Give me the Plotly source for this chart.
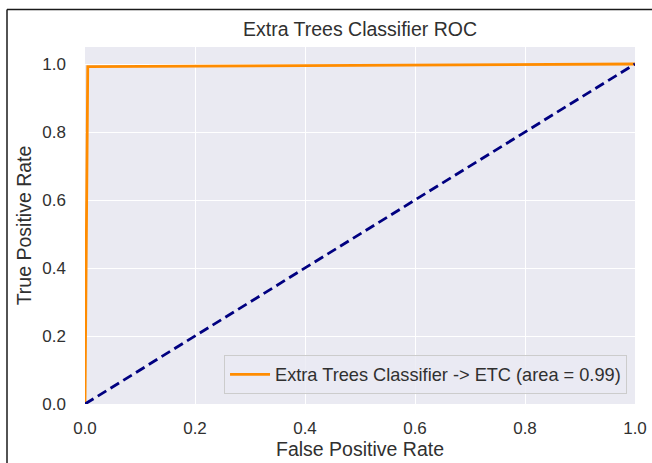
import plotly.graph_objects as go

# ROC data
fpr = [0.0, 0.005, 1.0]
tpr = [0.0, 0.992, 1.0]
diag_x = [0.0, 1.0]
diag_y = [0.0, 1.0]
roc_auc = 0.99
tick_vals = [0.0, 0.2, 0.4, 0.6, 0.8, 1.0]
tick_text = ["0.0", "0.2", "0.4", "0.6", "0.8", "1.0"]

FONT = "Liberation Sans, Arial, sans-serif"
TXT = "#303030"

fig = go.Figure()
fig.add_trace(go.Scatter(
    x=fpr, y=tpr, mode="lines",
    line=dict(color="#FF8C00", width=2.8),
    name=f"Extra Trees Classifier -> ETC (area = {roc_auc:.2f})",
))
fig.add_trace(go.Scatter(
    x=diag_x, y=diag_y, mode="lines",
    line=dict(color="#000080", width=2.8, dash="10px,5px"),
    showlegend=False,
))

fig.update_layout(
    width=652, height=463,
    margin=dict(l=85, r=17, t=46.5, b=59, pad=0),
    paper_bgcolor="white",
    plot_bgcolor="#EAEAF2",
    font=dict(family=FONT, color=TXT, size=17),
    title=dict(text="Extra Trees Classifier ROC", x=0.5, xref="paper",
               y=1 - 29 / 463, yref="container", yanchor="middle",
               font=dict(size=19.5, color=TXT)),
    xaxis=dict(range=[0, 1.0], tickvals=tick_vals, ticktext=tick_text,
               showgrid=True, gridcolor="white", gridwidth=1.3,
               zeroline=False, showline=False, ticks="",
               ticklabelstandoff=12, automargin=False,
               tickfont=dict(size=17),
               title=dict(text="False Positive Rate", font=dict(size=19.5), standoff=4)),
    yaxis=dict(range=[0, 1.05], tickvals=tick_vals, ticktext=tick_text,
               showgrid=True, gridcolor="white", gridwidth=1.3,
               zeroline=False, showline=False, ticks="",
               ticklabelstandoff=18, automargin=False,
               tickfont=dict(size=17),
               title=dict(text="True Positive Rate", font=dict(size=19.5), standoff=5)),
    legend=dict(x=0.9855, y=0.028, xanchor="right", yanchor="bottom",
                bgcolor="rgba(234,234,242,0.8)", bordercolor="#CCCCCC", borderwidth=1,
                font=dict(size=18.2, color=TXT), itemwidth=40),
    showlegend=True,
)

# frame lines around the figure (left and top)
xl = (7 - 85) / 550
yt = (404 - 9) / 357.5
fig.add_shape(type="line", xref="paper", yref="paper", x0=xl, x1=xl, y0=yt, y1=-0.3,
              line=dict(color="#1a1a1a", width=1.5))
fig.add_shape(type="line", xref="paper", yref="paper", x0=xl, x1=1.2, y0=yt, y1=yt,
              line=dict(color="#1a1a1a", width=1.5))

fig.write_html("out.html")
